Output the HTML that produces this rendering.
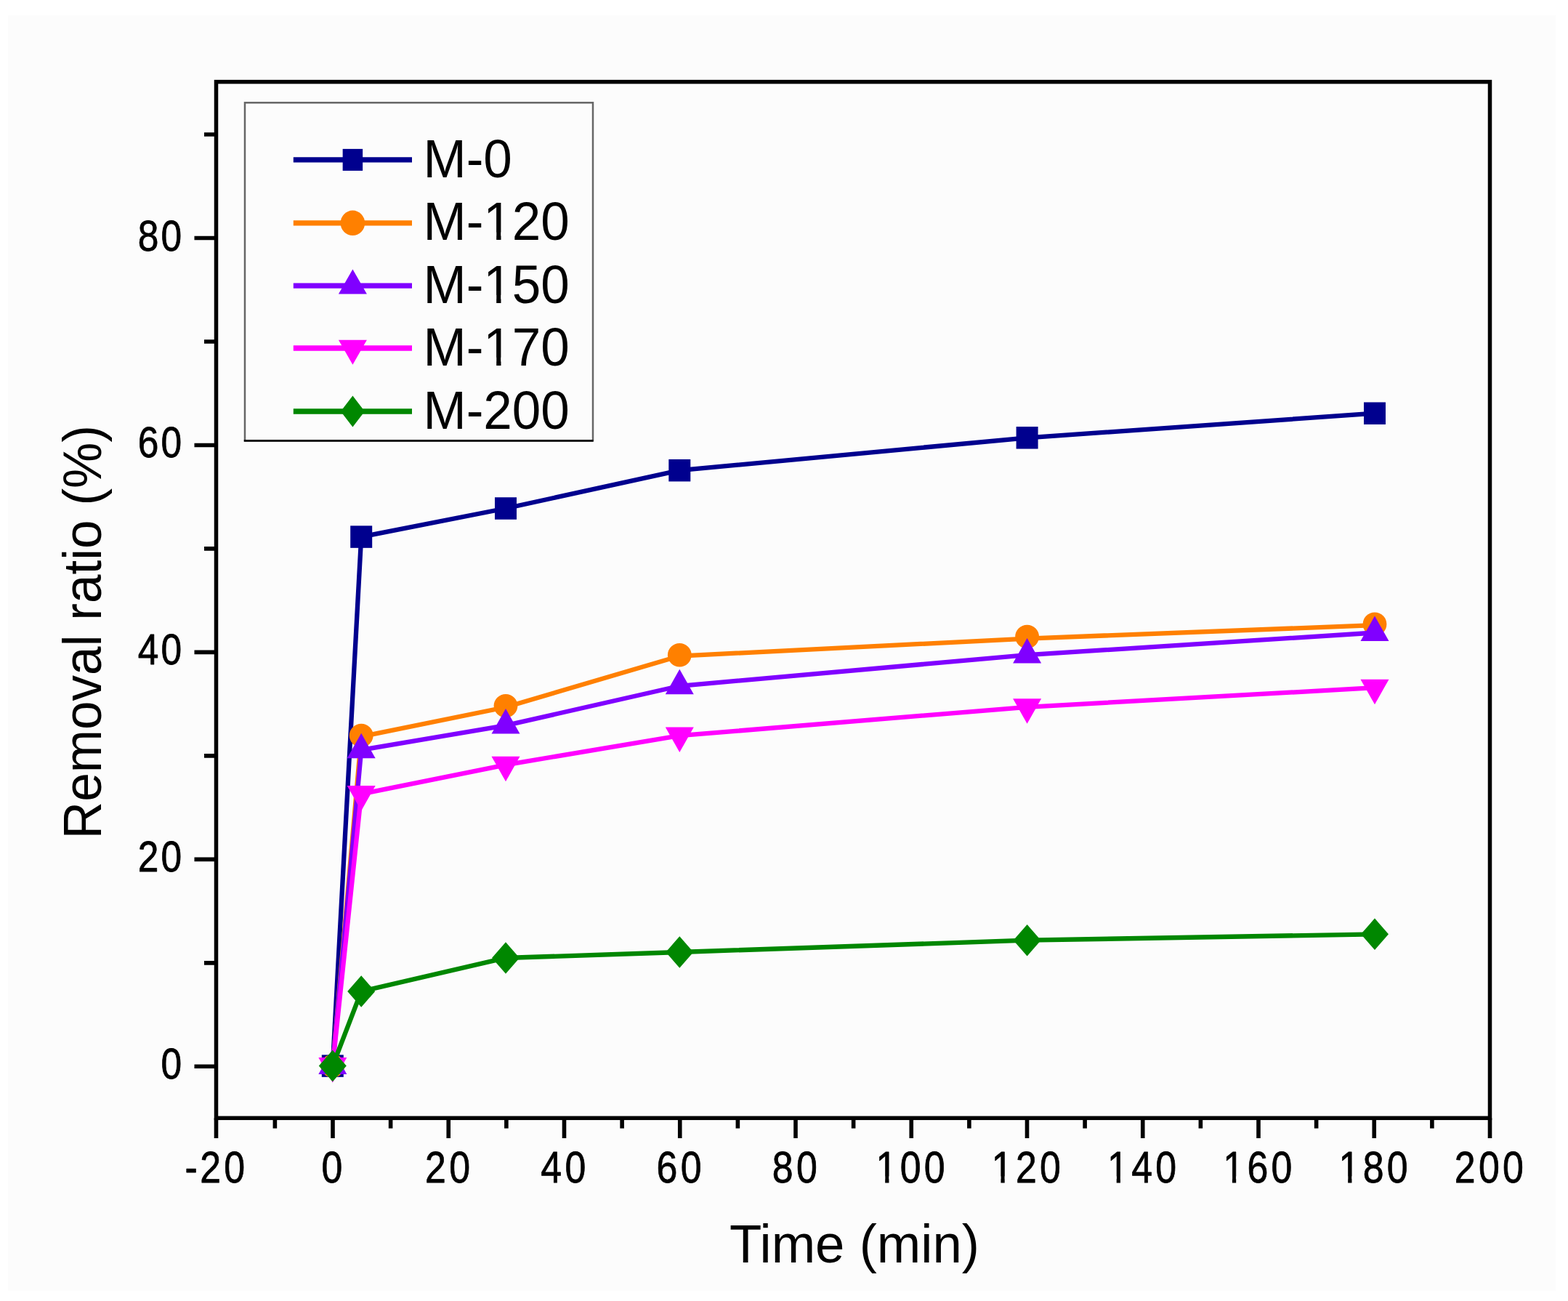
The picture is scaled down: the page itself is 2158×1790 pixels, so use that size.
<!DOCTYPE html><html><head><meta charset="utf-8"><title>Removal ratio vs time</title><style>html,body{margin:0;padding:0;background:#fff;}svg{display:block;}text{font-family:"Liberation Sans",Arial,sans-serif;fill:#000;}</style></head><body>
<svg width="2158" height="1790" viewBox="0 0 2158 1790">
<rect width="2158" height="1790" fill="#fff"/>
<rect x="11" y="21" width="2130" height="1755" fill="#fcfcfc"/>
<rect x="297.5" y="112.6" width="1753" height="1425.7" fill="none" stroke="#000" stroke-width="5.5"/>
<path d="M267.5 1467.3H297.5M281 1324.83H297.5M267.5 1182.35H297.5M281 1039.88H297.5M267.5 897.4H297.5M281 754.92H297.5M267.5 612.45H297.5M281 469.97H297.5M267.5 327.5H297.5M281 185.02H297.5M297.5 1538.3V1566M378.38 1538.3V1552.5M458 1538.3V1566M537.62 1538.3V1552.5M617.25 1538.3V1566M696.88 1538.3V1552.5M776.5 1538.3V1566M856.12 1538.3V1552.5M935.75 1538.3V1566M1015.38 1538.3V1552.5M1095 1538.3V1566M1174.62 1538.3V1552.5M1254.25 1538.3V1566M1333.88 1538.3V1552.5M1413.5 1538.3V1566M1493.12 1538.3V1552.5M1572.75 1538.3V1566M1652.38 1538.3V1552.5M1732 1538.3V1566M1811.62 1538.3V1552.5M1891.25 1538.3V1566M1970.88 1538.3V1552.5M2050.5 1538.3V1566" stroke="#000" stroke-width="5.6" fill="none"/>
<g transform="translate(251.8,1484.3) scale(0.88,1)"><text font-size="58.5" text-anchor="middle" stroke="#000" stroke-width="0.8" stroke-linejoin="round" x="-18.07">0</text></g>
<g transform="translate(251.8,1199.35) scale(0.88,1)"><text font-size="58.5" text-anchor="middle" stroke="#000" stroke-width="0.8" stroke-linejoin="round" x="-54.22 -18.07">20</text></g>
<g transform="translate(251.8,914.4) scale(0.88,1)"><text font-size="58.5" text-anchor="middle" stroke="#000" stroke-width="0.8" stroke-linejoin="round" x="-54.22 -18.07">40</text></g>
<g transform="translate(251.8,629.45) scale(0.88,1)"><text font-size="58.5" text-anchor="middle" stroke="#000" stroke-width="0.8" stroke-linejoin="round" x="-54.22 -18.07">60</text></g>
<g transform="translate(251.8,344.5) scale(0.88,1)"><text font-size="58.5" text-anchor="middle" stroke="#000" stroke-width="0.8" stroke-linejoin="round" x="-54.22 -18.07">80</text></g>
<g transform="translate(296.3,1627.3) scale(0.85,1)"><text font-size="61" text-anchor="middle" stroke="#000" stroke-width="0.8" stroke-linejoin="round" x="-38.99 -7.82 31.17">-20</text></g>
<g transform="translate(456.8,1627.3) scale(0.85,1)"><text font-size="61" text-anchor="middle" stroke="#000" stroke-width="0.8" stroke-linejoin="round" x="0">0</text></g>
<g transform="translate(616.05,1627.3) scale(0.85,1)"><text font-size="61" text-anchor="middle" stroke="#000" stroke-width="0.8" stroke-linejoin="round" x="-19.5 19.5">20</text></g>
<g transform="translate(775.3,1627.3) scale(0.85,1)"><text font-size="61" text-anchor="middle" stroke="#000" stroke-width="0.8" stroke-linejoin="round" x="-19.5 19.5">40</text></g>
<g transform="translate(934.55,1627.3) scale(0.85,1)"><text font-size="61" text-anchor="middle" stroke="#000" stroke-width="0.8" stroke-linejoin="round" x="-19.5 19.5">60</text></g>
<g transform="translate(1093.8,1627.3) scale(0.85,1)"><text font-size="61" text-anchor="middle" stroke="#000" stroke-width="0.8" stroke-linejoin="round" x="-19.5 19.5">80</text></g>
<g transform="translate(1253.05,1627.3) scale(0.85,1)"><text font-size="61" text-anchor="middle" stroke="#000" stroke-width="0.8" stroke-linejoin="round" x="-38.99 0 38.99">100</text><rect x="-52.98" y="-8.94" width="11.96" height="10.94" fill="#fcfcfc"/><rect x="-34.83" y="-8.94" width="11.93" height="10.94" fill="#fcfcfc"/></g>
<g transform="translate(1412.3,1627.3) scale(0.85,1)"><text font-size="61" text-anchor="middle" stroke="#000" stroke-width="0.8" stroke-linejoin="round" x="-38.99 0 38.99">120</text><rect x="-52.98" y="-8.94" width="11.96" height="10.94" fill="#fcfcfc"/><rect x="-34.83" y="-8.94" width="11.93" height="10.94" fill="#fcfcfc"/></g>
<g transform="translate(1571.55,1627.3) scale(0.85,1)"><text font-size="61" text-anchor="middle" stroke="#000" stroke-width="0.8" stroke-linejoin="round" x="-38.99 0 38.99">140</text><rect x="-52.98" y="-8.94" width="11.96" height="10.94" fill="#fcfcfc"/><rect x="-34.83" y="-8.94" width="11.93" height="10.94" fill="#fcfcfc"/></g>
<g transform="translate(1730.8,1627.3) scale(0.85,1)"><text font-size="61" text-anchor="middle" stroke="#000" stroke-width="0.8" stroke-linejoin="round" x="-38.99 0 38.99">160</text><rect x="-52.98" y="-8.94" width="11.96" height="10.94" fill="#fcfcfc"/><rect x="-34.83" y="-8.94" width="11.93" height="10.94" fill="#fcfcfc"/></g>
<g transform="translate(1890.05,1627.3) scale(0.85,1)"><text font-size="61" text-anchor="middle" stroke="#000" stroke-width="0.8" stroke-linejoin="round" x="-38.99 0 38.99">180</text><rect x="-52.98" y="-8.94" width="11.96" height="10.94" fill="#fcfcfc"/><rect x="-34.83" y="-8.94" width="11.93" height="10.94" fill="#fcfcfc"/></g>
<g transform="translate(2049.3,1627.3) scale(0.85,1)"><text font-size="61" text-anchor="middle" stroke="#000" stroke-width="0.8" stroke-linejoin="round" x="-38.99 0 38.99">200</text></g>
<g transform="translate(1003.9,1737.2) scale(0.977,1)"><text font-size="74.3">Time (min)</text></g>
<g transform="translate(139.1,1154.2) rotate(-90) scale(0.955,1)"><text font-size="74.5">Removal ratio (%)</text></g>
<polyline points="457.8,1466.6 497.2,738.6 696,699.5 935.3,647.2 1413.6,602.3 1892,568.7" fill="none" stroke="#00008e" stroke-width="6.3" stroke-linejoin="miter"/>
<rect x="442.8" y="1451.35" width="30" height="30.5" fill="#00008e"/><rect x="482.2" y="723.35" width="30" height="30.5" fill="#00008e"/><rect x="681" y="684.25" width="30" height="30.5" fill="#00008e"/><rect x="920.3" y="631.95" width="30" height="30.5" fill="#00008e"/><rect x="1398.6" y="587.05" width="30" height="30.5" fill="#00008e"/><rect x="1877" y="553.45" width="30" height="30.5" fill="#00008e"/>
<polyline points="457.8,1466.6 497.2,1013.5 696,973 935.3,902.6 1413.6,878.6 1892,860.2" fill="none" stroke="#ff8000" stroke-width="6.3" stroke-linejoin="miter"/>
<ellipse cx="457.8" cy="1466.6" rx="16.4" ry="16.2" fill="#ff8000"/><ellipse cx="497.2" cy="1012" rx="16.4" ry="16.2" fill="#ff8000"/><ellipse cx="696" cy="971.1" rx="16.4" ry="16.2" fill="#ff8000"/><ellipse cx="935.3" cy="901.2" rx="16.4" ry="16.2" fill="#ff8000"/><ellipse cx="1413.6" cy="876" rx="16.4" ry="16.2" fill="#ff8000"/><ellipse cx="1892" cy="858.7" rx="16.4" ry="16.2" fill="#ff8000"/>
<polyline points="457.8,1466.6 497.2,1031.8 696,998.1 935.3,943.8 1413.6,901.1 1892,870.5" fill="none" stroke="#8000ff" stroke-width="6.3" stroke-linejoin="miter"/>
<polygon points="457.8,1443.6 477.3,1478.1 438.3,1478.1" fill="#8000ff"/><polygon points="497.2,1008.8 516.7,1043.3 477.7,1043.3" fill="#8000ff"/><polygon points="696,975.1 715.5,1009.6 676.5,1009.6" fill="#8000ff"/><polygon points="935.3,920.8 954.8,955.3 915.8,955.3" fill="#8000ff"/><polygon points="1413.6,878.1 1433.1,912.6 1394.1,912.6" fill="#8000ff"/><polygon points="1892,847.5 1911.5,882 1872.5,882" fill="#8000ff"/>
<polyline points="457.8,1466.6 497.2,1092.5 696,1052.3 935.3,1012.1 1413.6,972.8 1892,946.2" fill="none" stroke="#ff00ff" stroke-width="6.3" stroke-linejoin="miter"/>
<polygon points="457.8,1489.6 477.3,1455.1 438.3,1455.1" fill="#ff00ff"/><polygon points="497.2,1115.5 516.7,1081 477.7,1081" fill="#ff00ff"/><polygon points="696,1075.3 715.5,1040.8 676.5,1040.8" fill="#ff00ff"/><polygon points="935.3,1035.1 954.8,1000.6 915.8,1000.6" fill="#ff00ff"/><polygon points="1413.6,995.8 1433.1,961.3 1394.1,961.3" fill="#ff00ff"/><polygon points="1892,969.2 1911.5,934.7 1872.5,934.7" fill="#ff00ff"/>
<polyline points="457.8,1466.6 497.2,1364 696,1318 935.3,1310 1413.6,1293.7 1892,1285.3" fill="none" stroke="#008700" stroke-width="6.3" stroke-linejoin="miter"/>
<polygon points="457.8,1444.85 476.8,1466.6 457.8,1488.35 438.8,1466.6" fill="#008700"/><polygon points="497.2,1342.25 516.2,1364 497.2,1385.75 478.2,1364" fill="#008700"/><polygon points="696,1296.25 715,1318 696,1339.75 677,1318" fill="#008700"/><polygon points="935.3,1288.25 954.3,1310 935.3,1331.75 916.3,1310" fill="#008700"/><polygon points="1413.6,1271.95 1432.6,1293.7 1413.6,1315.45 1394.6,1293.7" fill="#008700"/><polygon points="1892,1263.55 1911,1285.3 1892,1307.05 1873,1285.3" fill="#008700"/>
<rect x="337" y="141.3" width="479" height="465" fill="none" stroke="#666" stroke-width="2.5"/>
<line x1="335.8" y1="606.4" x2="816.5" y2="606.4" stroke="#000" stroke-width="2.8"/>
<line x1="403.8" y1="219.9" x2="567" y2="219.9" stroke="#00008e" stroke-width="7.3"/>
<rect x="471.65" y="204.9" width="27.5" height="30" fill="#00008e"/>
<g transform="translate(582.5,243.5) scale(0.96,1)"><text font-size="74">M-0</text></g>
<line x1="403.8" y1="306.8" x2="567" y2="306.8" stroke="#ff8000" stroke-width="7.3"/>
<ellipse cx="485.4" cy="306.8" rx="16.8" ry="17.2" fill="#ff8000"/>
<g transform="translate(582.5,330.4) scale(0.96,1)"><text font-size="74">M-120</text><rect x="89.9" y="-10.84" width="15" height="12.84" fill="#fcfcfc"/><rect x="111.43" y="-10.84" width="14.96" height="12.84" fill="#fcfcfc"/></g>
<line x1="403.8" y1="393.1" x2="567" y2="393.1" stroke="#8000ff" stroke-width="7.3"/>
<polygon points="485.4,370.43 504.9,404.43 465.9,404.43" fill="#8000ff"/>
<g transform="translate(582.5,416.7) scale(0.96,1)"><text font-size="74">M-150</text><rect x="89.9" y="-10.84" width="15" height="12.84" fill="#fcfcfc"/><rect x="111.43" y="-10.84" width="14.96" height="12.84" fill="#fcfcfc"/></g>
<line x1="403.8" y1="479.0" x2="567" y2="479.0" stroke="#ff00ff" stroke-width="7.3"/>
<polygon points="485.4,501.67 504.9,467.67 465.9,467.67" fill="#ff00ff"/>
<g transform="translate(582.5,502.6) scale(0.96,1)"><text font-size="74">M-170</text><rect x="89.9" y="-10.84" width="15" height="12.84" fill="#fcfcfc"/><rect x="111.43" y="-10.84" width="14.96" height="12.84" fill="#fcfcfc"/></g>
<line x1="403.8" y1="566.0" x2="567" y2="566.0" stroke="#008700" stroke-width="7.3"/>
<polygon points="485.4,544.5 501.9,566 485.4,587.5 468.9,566" fill="#008700"/>
<g transform="translate(582.5,589.6) scale(0.96,1)"><text font-size="74">M-200</text></g>
</svg></body></html>
